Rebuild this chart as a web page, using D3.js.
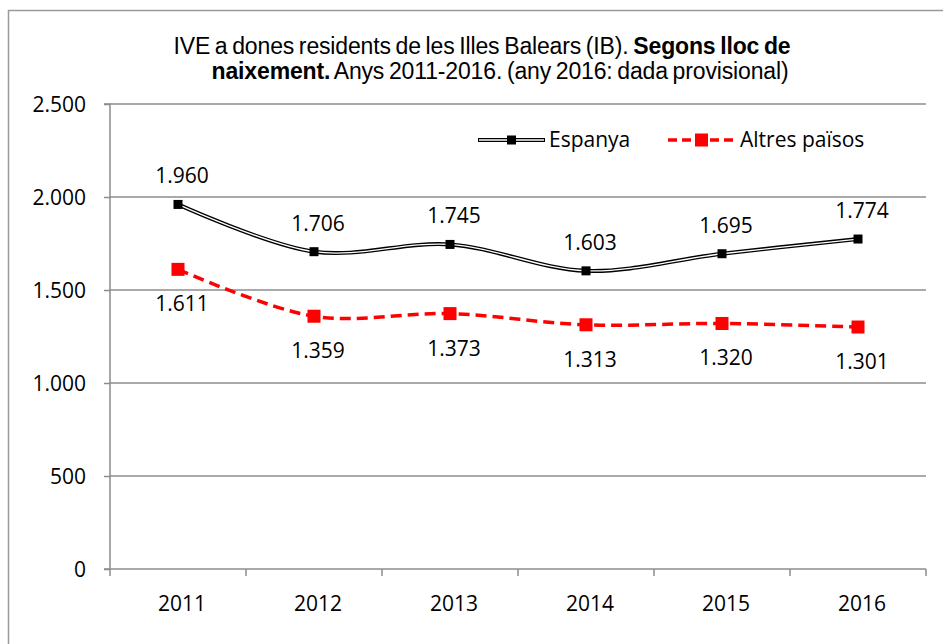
<!DOCTYPE html>
<html>
<head>
<meta charset="utf-8">
<script src="https://cdn.jsdelivr.net/npm/d3@7"></script>
<style>
  body { margin: 0; background: #fff; }
  svg { display: block; }
  .lbl { font-family: 'Open Sans', 'Noto Sans', sans-serif; font-size: 21px; fill: #000; }
  .title { font-family: 'Liberation Sans', Arial, sans-serif; font-size: 23px; fill: #000; letter-spacing: -0.15px; word-spacing: -1.5px; }
</style>
</head>
<body>
<svg id="chart" width="943" height="644"></svg>
<script>
// chart data
const years = ['2011', '2012', '2013', '2014', '2015', '2016']
const espanya = [1960, 1706, 1745, 1603, 1695, 1774]
const altres = [1611, 1359, 1373, 1313, 1320, 1301]
const yTicks = [0, 500, 1000, 1500, 2000, 2500]
const seriesNames = ['Espanya', 'Altres països']

const svg = d3.select('#chart')
const margin = { left: 110, right: 926, top: 104, bottom: 569 }
const grid = '#8c8c8c'
const fmt = (v) => d3.format(',')(v).replace(/,/g, '.')

// outer frame (right/bottom edges fall outside the picture)
svg.append('rect')
  .attr('x', 8.5).attr('y', 10.5).attr('width', 960).attr('height', 660)
  .attr('fill', 'none').attr('stroke', '#9a9a9a').attr('stroke-width', 1.5)

const x = d3.scaleBand().domain(years).range([margin.left, margin.right])
const y = d3.scaleLinear().domain([0, 2500]).range([margin.bottom, margin.top])
const cx = (d, i) => x(years[i]) + x.bandwidth() / 2

// gridlines
svg.append('g').selectAll('line').data(yTicks.slice(1)).join('line')
  .attr('x1', margin.left).attr('x2', margin.right)
  .attr('y1', (d) => y(d)).attr('y2', (d) => y(d))
  .attr('stroke', grid).attr('stroke-width', 1.5)

// y axis
const yAxis = svg.append('g').attr('transform', `translate(${margin.left},0)`)
  .call(d3.axisLeft(y).tickValues(yTicks).tickSize(6).tickFormat(fmt))
yAxis.selectAll('line, path').attr('stroke', grid).attr('stroke-width', 1.5)
yAxis.select('.domain').attr('d', `M-6,${margin.top}H0V${margin.bottom}H-6`)
yAxis.selectAll('text').attr('class', 'lbl').attr('x', -24).attr('dy', '0.35em')

// x axis
const xAxis = svg.append('g').attr('transform', `translate(0,${margin.bottom})`)
  .call(d3.axisBottom(x).tickSize(0))
xAxis.select('.domain').attr('stroke', grid).attr('stroke-width', 1.5)
  .attr('d', `M${margin.left},0H${margin.right}`)
xAxis.selectAll('.tick text').attr('class', 'lbl').attr('x', 4).attr('y', 42).attr('dy', 0)
xAxis.append('g').selectAll('line').data(d3.range(years.length + 1)).join('line')
  .attr('x1', (d) => margin.left + d * x.bandwidth())
  .attr('x2', (d) => margin.left + d * x.bandwidth())
  .attr('y1', 0).attr('y2', 7)
  .attr('stroke', grid).attr('stroke-width', 1.5)

const line = d3.line().x(cx).y((d) => y(d)).curve(d3.curveCatmullRom.alpha(0.5))

// Espanya: double line (black with white core)
svg.append('path').attr('d', line(espanya)).attr('fill', 'none')
  .attr('stroke', '#000').attr('stroke-width', 4)
svg.append('path').attr('d', line(espanya)).attr('fill', 'none')
  .attr('stroke', '#fff').attr('stroke-width', 1.3)
svg.append('g').selectAll('rect').data(espanya).join('rect')
  .attr('x', (d, i) => cx(d, i) - 4.5).attr('y', (d) => y(d) - 4.5)
  .attr('width', 9).attr('height', 9).attr('fill', '#000')
svg.append('g').selectAll('text').data(espanya).join('text')
  .attr('class', 'lbl').attr('text-anchor', 'middle')
  .attr('x', (d, i) => cx(d, i) + 4).attr('y', (d) => y(d) - 21)
  .text(fmt)

// Altres països: red dashed
svg.append('path').attr('d', line(altres)).attr('fill', 'none')
  .attr('stroke', '#ff0000').attr('stroke-width', 3.5).attr('stroke-dasharray', '11,6')
svg.append('g').selectAll('rect').data(altres).join('rect')
  .attr('x', (d, i) => cx(d, i) - 6.5).attr('y', (d) => y(d) - 6.5)
  .attr('width', 13).attr('height', 13).attr('fill', '#ff0000')
svg.append('g').selectAll('text').data(altres).join('text')
  .attr('class', 'lbl').attr('text-anchor', 'middle')
  .attr('x', (d, i) => cx(d, i) + 4).attr('y', (d) => y(d) + 42)
  .text(fmt)

// legend
const leg = svg.append('g')
const l1 = leg.append('g').attr('transform', 'translate(478,140)')
l1.append('line').attr('x1', 0).attr('x2', 67).attr('stroke', '#000').attr('stroke-width', 4)
l1.append('line').attr('x1', 1).attr('x2', 66).attr('stroke', '#fff').attr('stroke-width', 1.3)
l1.append('rect').attr('x', 29).attr('y', -4.5).attr('width', 9).attr('height', 9).attr('fill', '#000')
l1.append('text').attr('class', 'lbl').attr('x', 71).attr('dy', '0.35em').text(seriesNames[0])
const l2 = leg.append('g').attr('transform', 'translate(668,140)')
l2.append('line').attr('x1', 0).attr('x2', 66).attr('stroke', '#ff0000')
  .attr('stroke-width', 3.5).attr('stroke-dasharray', '9,5')
l2.append('rect').attr('x', 27).attr('y', -6.5).attr('width', 13).attr('height', 13).attr('fill', '#ff0000')
l2.append('text').attr('class', 'lbl').attr('x', 72).attr('dy', '0.35em').text(seriesNames[1])

// title
const title = svg.append('text').attr('class', 'title').attr('text-anchor', 'middle')
title.append('tspan').attr('x', 482).attr('y', 54).text('IVE a dones residents de les Illes Balears (IB). ')
title.append('tspan').attr('font-weight', 'bold').text('Segons lloc de')
title.append('tspan').attr('x', 500).attr('y', 79).attr('font-weight', 'bold').text('naixement.')
title.append('tspan').text(' Anys 2011-2016. (any 2016: dada provisional)')
</script>
</body>
</html>
